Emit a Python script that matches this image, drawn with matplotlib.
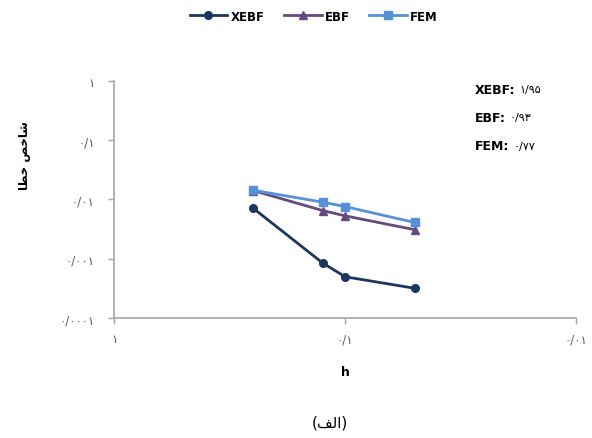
import matplotlib
matplotlib.use("Agg")
import matplotlib.pyplot as plt
from matplotlib.ticker import FixedLocator, FuncFormatter

plt.rcParams['font.family'] = ['DejaVu Sans']

# mesh size h and error norm for each method
h = [0.25, 0.125, 0.1, 0.05]
xebf = [0.0071, 0.00085, 0.0005, 0.00032]
ebf = [0.0141, 0.0065, 0.0053, 0.0031]
fem = [0.0143, 0.009, 0.0076, 0.0041]

series_names = ["XEBF", "EBF", "FEM"]
rates = ["۱/۹۵", "۰/۹۳", "۰/۷۷"]

x_ticks = [1, 0.1, 0.01]
y_ticks = [1, 0.1, 0.01, 0.001, 0.0001]

# Arabic text, pre-shaped (presentation forms) and in visual order
ylabel_fa = "\ufe8e\ufec4\ufea7 \ufeba\ufea7\ufe8e\ufeb7"   # شاخص خطا
caption_fa = "(\ufed2\ufedf\ufe8d)"                        # (الف)

PERSIAN = str.maketrans("0123456789.", "۰۱۲۳۴۵۶۷۸۹/")


def persian_num(v, pos=None):
    s = ("%.4f" % v).rstrip("0").rstrip(".")
    return s.translate(PERSIAN)


fig = plt.figure(figsize=(5.92, 4.39), dpi=100)
ax = fig.add_axes([0.193, 0.2727, 0.780, 0.5413])

ax.plot(h, xebf, color="#1b365f", marker="o", markersize=5.5, lw=2.0, label=series_names[0])
ax.plot(h, ebf, color="#634b7e", marker="^", markersize=5.5, lw=2.0, label=series_names[1])
ax.plot(h, fem, color="#5590d8", marker="s", markersize=5.5, lw=2.0, label=series_names[2])

ax.set_xscale("log")
ax.set_yscale("log")
ax.set_xlim(1, 0.01)
ax.set_ylim(0.0001, 1)

ax.xaxis.set_major_locator(FixedLocator(x_ticks))
ax.yaxis.set_major_locator(FixedLocator(y_ticks))
ax.xaxis.set_minor_locator(FixedLocator([]))
ax.yaxis.set_minor_locator(FixedLocator([]))
ax.xaxis.set_major_formatter(FuncFormatter(persian_num))
ax.yaxis.set_major_formatter(FuncFormatter(persian_num))

for side in ["top", "right"]:
    ax.spines[side].set_visible(False)
for side in ["left", "bottom"]:
    ax.spines[side].set_color("#a6a6a6")
    ax.spines[side].set_linewidth(1.2)
ax.tick_params(axis="both", direction="out", length=4, width=1, color="#a6a6a6",
               labelsize=8.5, labelcolor="#595959")
ax.tick_params(axis="y", pad=10)
ax.tick_params(axis="x", pad=6)

ax.set_xlabel("h", fontsize=9, fontweight="bold", labelpad=14)
fig.text(0.042, 1 - 156 / 439, ylabel_fa, rotation=90, fontsize=8.5,
         fontweight="bold", ha="center", va="center")

for i, (name, r) in enumerate(zip(series_names, rates)):
    y = 1 - (90 + i * 28.5) / 439
    t = fig.text(0.802, y, name + ":", fontsize=9, fontweight="bold", va="center")
    fig.canvas.draw()
    bb = t.get_window_extent()
    fig.text((bb.x1 + 4) / fig.bbox.width, y, r, fontsize=8, va="center")

fig.legend(loc="upper center", bbox_to_anchor=(0.53, 1.0), ncol=3, frameon=False,
           prop={"weight": "bold", "size": 8.5}, handlelength=3.2, columnspacing=1.6,
           handletextpad=0.3)

fig.text(330 / 592, 1 - 423 / 439, caption_fa, fontsize=11, ha="center", va="center")

fig.savefig("out.png", dpi=100)
